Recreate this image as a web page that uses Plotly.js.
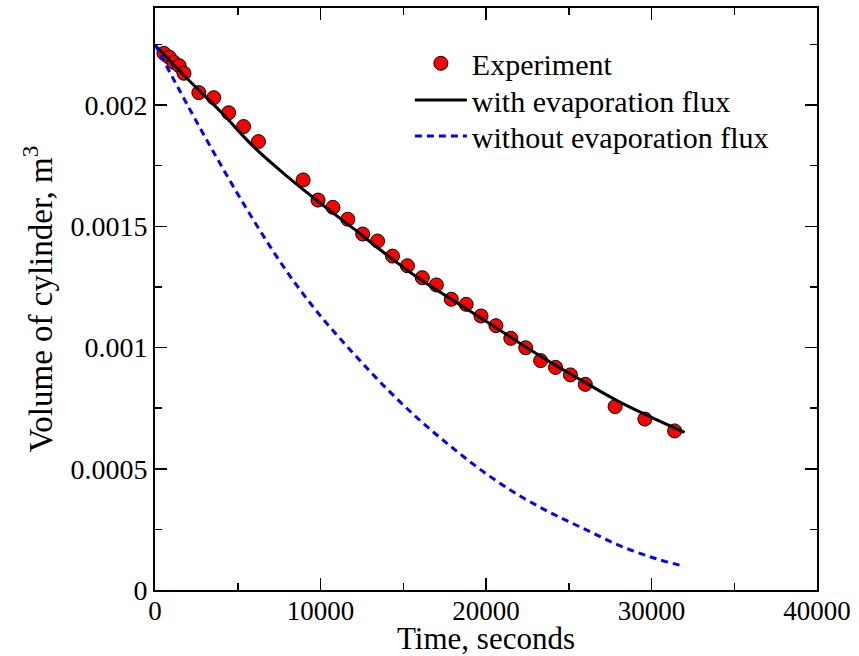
<!DOCTYPE html>
<html>
<head>
<meta charset="utf-8">
<script src="https://cdn.plot.ly/plotly-3.0.1.min.js"></script>
<style>
  html, body { margin: 0; padding: 0; background: #fff; }
  #chart { width: 859px; height: 656px; }
</style>
</head>
<body>
<div id="chart"></div>
<script>
// Experimental points (time in s, volume in m^3)
const expTime = [540, 860, 1140, 1460, 1750, 2650, 3550, 4450, 5350, 6250,
  8950, 9850, 10750, 11650, 12550, 13450, 14350, 15250, 16150, 17000,
  17900, 18800, 19700, 20600, 21500, 22400, 23300, 24200, 25100, 26000,
  27800, 29600, 31400];
const expVolume = [0.002213, 0.002197, 0.002176, 0.002162, 0.002131, 0.002051, 0.002030, 0.001968, 0.001911, 0.001849,
  0.001691, 0.001608, 0.001578, 0.001529, 0.001468, 0.001439, 0.001377, 0.001337, 0.001288, 0.001258,
  0.001199, 0.001178, 0.001130, 0.001090, 0.001038, 0.000999, 0.000946, 0.000918, 0.000887, 0.000848,
  0.000756, 0.000705, 0.000656];

// Model with evaporation flux
const withTime = [0, 2000, 4000, 6000, 8000, 10000, 12000, 14000, 16000, 18000,
  20000, 22000, 24000, 26000, 28000, 30000, 32000];
const withVolume = [0.002247, 0.002105, 0.001970, 0.001825, 0.001705, 0.001595, 0.001490, 0.001382, 0.001282, 0.001195,
  0.001108, 0.001020, 0.000935, 0.000855, 0.000778, 0.000712, 0.000650];

// Model without evaporation flux
const withoutTime = [0, 2000, 4000, 6000, 8000, 10000, 12000, 14000, 16000, 18000,
  20000, 22000, 24000, 26000, 28000, 30000, 32000];
const withoutVolume = [0.002250, 0.001995, 0.001750, 0.001520, 0.001310, 0.001130, 0.000975, 0.000830, 0.000700, 0.000585,
  0.000480, 0.000390, 0.000315, 0.000250, 0.000185, 0.000135, 0.000097];

// Axis ticks
const xTickVals = [0, 10000, 20000, 30000, 40000];
const xTickText = ["0", "10000", "20000", "30000", "40000"];
const xMinorVals = [5000, 15000, 25000, 35000];
const yTickVals = [0, 0.0005, 0.001, 0.0015, 0.002];
const yTickText = ["0", "0.0005", "0.001", "0.0015", "0.002"];
const yMinorVals = [0.00025, 0.00075, 0.00125, 0.00175, 0.00225];

const seriesNames = ["Experiment", "with evaporation flux", "without evaporation flux"];

const serif = '"Liberation Serif", "Times New Roman", serif';

const traces = [
  {
    x: expTime, y: expVolume, name: seriesNames[0], legend: 'legend',
    type: 'scatter', mode: 'markers',
    marker: { size: 14, color: '#ff0000', line: { color: '#000000', width: 1 } }
  },
  {
    x: withTime, y: withVolume, name: seriesNames[1], legend: 'legend2',
    type: 'scatter', mode: 'lines', line: { color: '#000000', width: 3, shape: 'spline' }
  },
  {
    x: withoutTime, y: withoutVolume, name: seriesNames[2], legend: 'legend3',
    type: 'scatter', mode: 'lines', line: { color: '#0000ff', width: 3, dash: '7px,5px', shape: 'spline' }
  }
];

const axisCommon = {
  showline: true, linecolor: '#000', linewidth: 2, mirror: 'ticks',
  ticks: 'inside', ticklen: 12, tickwidth: 1.5, tickcolor: '#000',
  showgrid: false, zeroline: false,
  tickfont: { family: serif, size: 28, color: '#000' }
};

function legendAt(yPaper) {
  return {
    x: 0.385, y: yPaper, xanchor: 'left', yanchor: 'middle',
    bgcolor: 'rgba(0,0,0,0)', borderwidth: 0,
    font: { family: serif, size: 30, color: '#000' },
    itemwidth: 52, traceorder: 'normal'
  };
}

const layout = {
  width: 859, height: 656,
  margin: { l: 155, r: 42, t: 8, b: 66, pad: 0 },
  paper_bgcolor: '#fff', plot_bgcolor: '#fff',
  font: { family: serif, color: '#000' },
  showlegend: true,
  legend: legendAt(0.905),
  legend2: legendAt(0.842),
  legend3: legendAt(0.780),
  xaxis: Object.assign({}, axisCommon, {
    range: [0, 40000], tickmode: 'array', tickvals: xTickVals, ticktext: xTickText,
    tickfont: { family: serif, size: 27, color: '#000' },
    ticklabelstandoff: -4,
    minor: { tickmode: 'array', tickvals: xMinorVals, ticks: 'inside', ticklen: 7, tickwidth: 1.5, tickcolor: '#000', showgrid: false },
    title: { text: 'Time, seconds', font: { family: serif, size: 31, color: '#000' }, standoff: 0 }
  }),
  yaxis: Object.assign({}, axisCommon, {
    range: [0, 0.0024], tickmode: 'array', tickvals: yTickVals, ticktext: yTickText,
    minor: { tickmode: 'array', tickvals: yMinorVals, ticks: 'inside', ticklen: 7, tickwidth: 1.5, tickcolor: '#000', showgrid: false },
    title: { text: 'Volume of cylinder, m<sup>3</sup>', font: { family: serif, size: 33, color: '#000' }, standoff: 8 }
  })
};

Plotly.newPlot('chart', traces, layout, { staticPlot: true, displayModeBar: false });
</script>
</body>
</html>
